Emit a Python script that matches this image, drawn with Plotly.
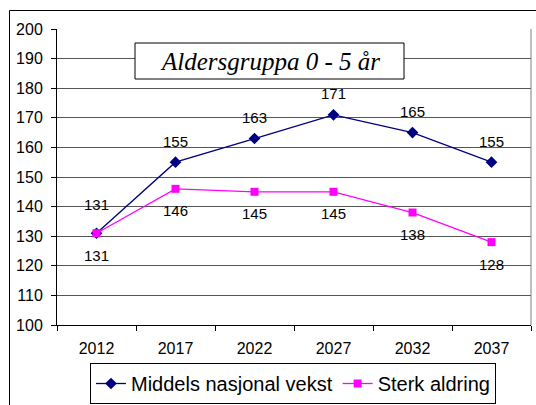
import plotly.graph_objects as go

years = ["2012", "2017", "2022", "2027", "2032", "2037"]
middels = [131, 155, 163, 171, 165, 155]
sterk = [131, 146, 145, 145, 138, 128]
middels_name = "Middels nasjonal vekst"
sterk_name = "Sterk aldring"
title_text = "Aldersgruppa 0 - 5 år"

W, H = 536, 405
L, R, T, B = 57, 5, 29, 80
pw, ph = W - L - R, H - T - B

def px_x(px):
    return (px - L) / pw

def px_y(py):
    return (H - B - py) / ph

blue = "#000080"
pink = "#FF00FF"

fig = go.Figure()
fig.add_trace(go.Scatter(x=years, y=middels, name=middels_name, mode="lines+markers",
                         line=dict(color=blue, width=1.3),
                         marker=dict(symbol="diamond", size=9, color=blue)))
fig.add_trace(go.Scatter(x=years, y=sterk, name=sterk_name, mode="lines+markers",
                         line=dict(color=pink, width=1.3),
                         marker=dict(symbol="square", size=8, color=pink)))

annotations = []
for i, v in enumerate(middels):
    annotations.append(dict(x=i, y=v, xref="x", yref="y", text=str(v), showarrow=False,
                            yshift=29 if i == 0 else 21,
                            font=dict(family="Liberation Sans, Arial", size=15, color="black")))
for i, v in enumerate(sterk):
    annotations.append(dict(x=i, y=v, xref="x", yref="y", text=str(v), showarrow=False,
                            yshift=-22,
                            font=dict(family="Liberation Sans, Arial", size=15, color="black")))
annotations.append(dict(x=px_x(269.5), y=px_y(61), xref="paper", yref="paper",
                        xanchor="center", yanchor="middle",
                        text="<i>" + title_text + "</i>", showarrow=False,
                        font=dict(family="Liberation Serif, Times New Roman", size=25, color="black")))

shapes = [
    dict(type="rect", xref="paper", yref="paper", x0=px_x(9.5), x1=px_x(545), y0=px_y(415), y1=px_y(10.5),
         line=dict(color="black", width=1), layer="below"),
    dict(type="line", xref="paper", yref="paper", x0=1, x1=1, y0=0, y1=1,
         line=dict(color="#808080", width=1)),
    dict(type="rect", xref="paper", yref="paper", x0=px_x(135), x1=px_x(404), y0=px_y(79), y1=px_y(43),
         line=dict(color="black", width=1), fillcolor="white", layer="above"),
]

fig.update_layout(
    width=W, height=H,
    margin=dict(l=L, r=R, t=T, b=B, pad=0, autoexpand=False),
    paper_bgcolor="white", plot_bgcolor="white",
    font=dict(family="Liberation Sans, Arial", color="black"),
    showlegend=True,
    legend=dict(orientation="h", x=px_x(293), xanchor="center", y=px_y(363), yanchor="top",
                bordercolor="black", borderwidth=1, bgcolor="white",
                font=dict(size=20, family="Liberation Sans, Arial")),
    annotations=annotations,
    shapes=shapes,
)
fig.update_xaxes(type="category", range=[-0.5, len(years) - 0.5], tickson="boundaries",
                 ticks="outside", ticklen=5, tickcolor="black", tickangle=0, automargin=False,
                 showline=True, linecolor="black", linewidth=1, showgrid=False,
                 tickfont=dict(size=16), ticklabelstandoff=9)
fig.update_yaxes(range=[100, 200], dtick=10, ticks="outside", ticklen=5, tickcolor="black",
                 showline=True, linecolor="black", linewidth=1, showgrid=True, automargin=False,
                 gridcolor="#555555", gridwidth=1, tickfont=dict(size=16), ticklabelstandoff=5,
                 zeroline=False)

fig.write_html("out.html", config={"displayModeBar": False},
               post_script="document.body.style.margin='0';document.body.style.overflow='hidden';")
